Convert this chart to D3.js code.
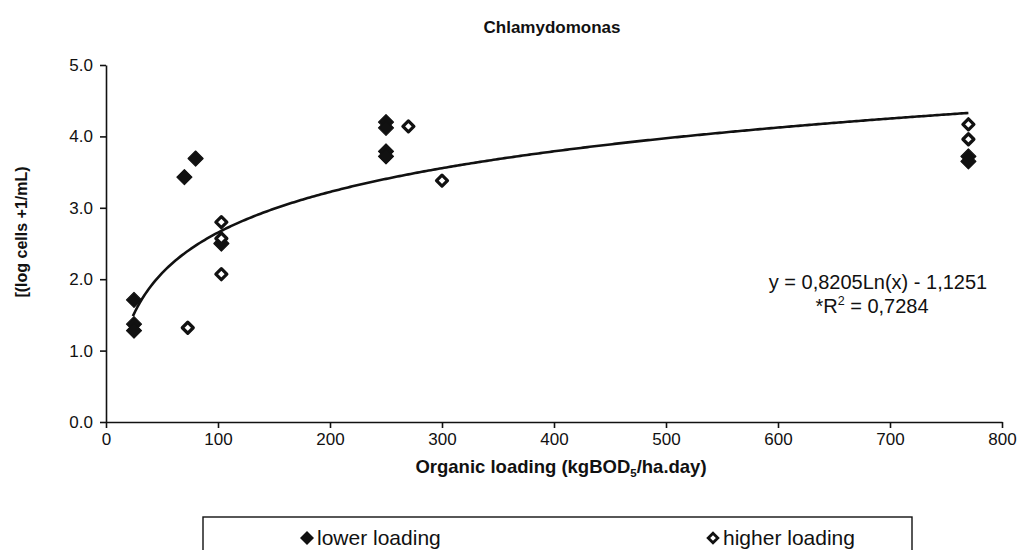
<!DOCTYPE html>
<html>
<head>
<meta charset="utf-8">
<script src="https://cdn.jsdelivr.net/npm/d3@7"></script>
<style>
  html, body { margin: 0; padding: 0; background: #fff; }
  svg { display: block; font-family: "Liberation Sans", Arial, sans-serif; }
</style>
</head>
<body>
<svg id="chart" width="1022" height="550"></svg>
<script>
// ---- data ----
const lowerX = [25, 25, 25, 70, 80, 103, 250, 250, 250, 250, 770, 770];
const lowerY = [1.71, 1.37, 1.28, 3.43, 3.69, 2.50, 4.20, 4.12, 3.79, 3.72, 3.72, 3.65];
const higherX = [73, 103, 103, 103, 270, 300, 770, 770];
const higherY = [1.32, 2.80, 2.57, 2.07, 4.14, 3.38, 4.17, 3.96];
const xTicks = [0, 100, 200, 300, 400, 500, 600, 700, 800];
const yTicks = [0, 1, 2, 3, 4, 5];
const seriesNames = ["lower loading", "higher loading"];
// trend line: y = a ln(x) + b (as printed on the chart)
const trendA = 0.8205, trendB = -1.1251;
const trendRange = [24, 770];
const equationLines = ["y = 0,8205Ln(x) - 1,1251", "*R", "2", " = 0,7284"];

const svg = d3.select("#chart");
const x = d3.scaleLinear().domain([0, 800]).range([106, 1002]);
const y = d3.scaleLinear().domain([0, 5]).range([422, 65]);
const ink = "#111";

// title
svg.append("text").attr("x", 552).attr("y", 33).attr("text-anchor", "middle")
  .attr("font-size", 17).attr("font-weight", "bold").attr("fill", ink).text("Chlamydomonas");

// axes
const xAxis = d3.axisBottom(x).tickValues(xTicks).tickFormat(d3.format("d")).tickSize(6).tickSizeOuter(0);
const gx = svg.append("g").attr("transform", `translate(0,${y(0)})`).call(xAxis);
gx.select(".domain").attr("stroke", ink).attr("stroke-width", 1.6);
gx.selectAll(".tick line").attr("stroke", ink).attr("stroke-width", 1.6);
gx.selectAll(".tick text").attr("font-size", 17).attr("fill", ink).attr("dy", "0.85em")
  .attr("font-family", "Liberation Sans, Arial, sans-serif");

const yAxis = d3.axisLeft(y).tickValues(yTicks).tickFormat(d3.format(".1f")).tickSize(6).tickSizeOuter(0);
const gy = svg.append("g").attr("transform", `translate(${x(0)},0)`).call(yAxis);
gy.select(".domain").attr("stroke", ink).attr("stroke-width", 1.6);
gy.selectAll(".tick line").attr("stroke", ink).attr("stroke-width", 1.6);
gy.selectAll(".tick text").attr("font-size", 17).attr("fill", ink).attr("x", -13)
  .attr("font-family", "Liberation Sans, Arial, sans-serif");

// axis titles
const xt = svg.append("text").attr("x", 561).attr("y", 473).attr("text-anchor", "middle")
  .attr("font-size", 18.5).attr("font-weight", "bold").attr("fill", ink);
xt.append("tspan").text("Organic loading (kgBOD");
xt.append("tspan").attr("font-size", 11.5).attr("dy", 4).text("5");
xt.append("tspan").attr("dy", -4).text("/ha.day)");

svg.append("text").attr("transform", "translate(27,232) rotate(-90)").attr("text-anchor", "middle")
  .attr("font-size", 16).attr("font-weight", "bold").attr("fill", ink).text("[(log cells +1/mL)");

// trend line
const tx = d3.range(trendRange[0], trendRange[1] + 0.5, 2);
const line = d3.line().x(d => x(d)).y(d => y(trendA * Math.log(d) + trendB));
svg.append("path").datum(tx).attr("d", line).attr("fill", "none").attr("stroke", ink).attr("stroke-width", 2.6);

// markers
function diamondPath(r) { return `M0,${-r}L${r},0L0,${r}L${-r},0Z`; }

svg.append("g").selectAll("path").data(d3.zip(lowerX, lowerY)).join("path")
  .attr("d", diamondPath(7.5))
  .attr("transform", d => `translate(${x(d[0])},${y(d[1])})`)
  .attr("fill", ink).attr("stroke", ink).attr("stroke-width", 1.2).attr("stroke-linejoin", "round");

svg.append("g").selectAll("path").data(d3.zip(higherX, higherY)).join("path")
  .attr("d", diamondPath(5.5))
  .attr("transform", d => `translate(${x(d[0])},${y(d[1])})`)
  .attr("fill", "#fff").attr("stroke", ink).attr("stroke-width", 3.2).attr("stroke-linejoin", "round");

// equation
svg.append("text").attr("x", 878).attr("y", 289).attr("text-anchor", "middle")
  .attr("font-size", 20).attr("fill", ink).text(equationLines[0]);
const eq2 = svg.append("text").attr("x", 872).attr("y", 313).attr("text-anchor", "middle")
  .attr("font-size", 20).attr("fill", ink);
eq2.append("tspan").text(equationLines[1]);
eq2.append("tspan").attr("font-size", 12.5).attr("dy", -8).text(equationLines[2]);
eq2.append("tspan").attr("dy", 8).text(equationLines[3]);

// legend
svg.append("rect").attr("x", 203).attr("y", 517).attr("width", 709).attr("height", 60)
  .attr("fill", "none").attr("stroke", ink).attr("stroke-width", 1.4);
const legendX = [307, 713];
svg.append("path").attr("d", diamondPath(7)).attr("transform", `translate(${legendX[0]},538)`)
  .attr("fill", ink);
svg.append("path").attr("d", diamondPath(4.8)).attr("transform", `translate(${legendX[1]},538)`)
  .attr("fill", "#fff").attr("stroke", ink).attr("stroke-width", 2.8);
seriesNames.forEach((n, i) => {
  svg.append("text").attr("x", legendX[i] + 10).attr("y", 545).attr("font-size", 21)
    .attr("fill", ink).text(n);
});
</script>
</body>
</html>
